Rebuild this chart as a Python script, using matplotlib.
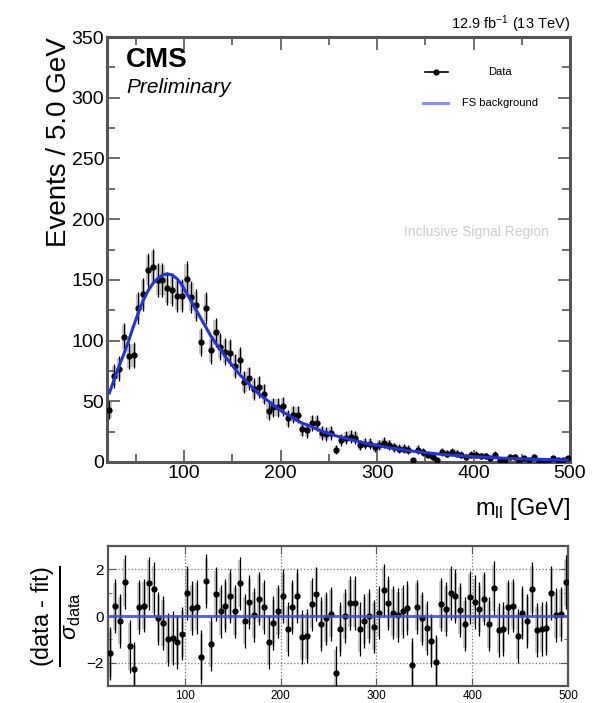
import numpy as np
import matplotlib.pyplot as plt
from matplotlib.patches import Rectangle
from matplotlib.ticker import MultipleLocator

plt.rcParams['font.family'] = ['Liberation Sans', 'DejaVu Sans']
plt.rcParams['mathtext.fontset'] = 'custom'
plt.rcParams['mathtext.rm'] = 'Liberation Sans'
plt.rcParams['mathtext.it'] = 'Liberation Sans:italic'

# bins: 20-500 GeV, 5 GeV wide
bin_lo = 20
bin_w = 5
n_bins = 96

# FS background fit (events per bin)
fit_vals = [57, 68, 79, 89, 100, 112, 123, 133, 141, 147, 151, 154, 155, 154, 151, 146,
            139, 132, 125, 118, 111, 104, 98, 93, 87, 82, 77, 72, 68, 64, 60, 56,
            53, 50, 47, 44, 41, 39, 36.5, 34, 32, 30.5, 29, 27, 25.5, 24, 23, 21.5,
            20.5, 19.5, 18.5, 17.5, 16.5, 15.5, 14.7, 14, 13.2, 12.5, 11.8, 11.2, 10.6, 10,
            9.4, 8.9, 8.4, 7.9, 7.5, 7.1, 6.7, 6.3, 6.0, 5.7, 5.4, 5.1, 4.8, 4.6,
            4.3, 4.1, 3.9, 3.7, 3.5, 3.3, 3.1, 3.0, 2.8, 2.7, 2.5, 2.4, 2.3, 2.2,
            2.1, 2.0, 1.9, 1.8, 1.7, 1.6]

# observed data per bin
data_vals = [43, 71, 77, 103, 87, 88, 127, 138, 158, 161, 150, 150, 143, 142, 137, 137,
             151, 136, 129, 99, 127, 92, 107, 95, 91, 90, 79, 84, 66, 69, 60, 62,
             56, 42, 45, 45, 46, 36, 39, 39, 27, 26, 32, 32, 24, 23, 24, 10,
             18, 20, 21, 20, 14, 15, 15, 12, 14, 16, 14, 12, 11, 11, 10, 2,
             10, 8, 6, 4, 2, 8, 7, 8, 7, 6, 4, 6, 6, 5, 5, 3,
             6, 2, 2, 4, 4, 1, 3, 2, 4, 1, 1, 1, 3, 2, 2, 3]

# pulls (data - fit) / sigma_data
pull_vals = [-1.6, 0.42, -0.2, 1.45, -1.3, -2.25, 0.4, 0.45, 1.4, 1.15, -0.1, -0.3, -1.0, -0.95, -1.1, -0.75,
             1.0, 0.35, 0.4, -1.75, 1.5, -1.2, 0.95, 0.2, 0.45, 0.85, 0.2, 1.4, -0.2, 0.6, 0.05, 0.75,
             0.4, -1.1, -0.3, 0.2, 0.85, -0.55, 0.4, 0.85, -0.9, -0.85, 0.5, 0.95, -0.35, -0.1, 0.1, -2.45,
             -0.55, 0.0, 0.55, 0.55, -0.55, -0.2, 0.0, -0.45, 0.15, 1.1, 0.55, 0.15, 0.05, 0.2, 0.35, -2.1,
             0.4, -0.1, -0.5, -1.05, -1.95, 0.5, 0.3, 1.0, 0.85, 0.25, -0.35, 0.8, 0.6, 0.3, 0.75, -0.35,
             1.2, -0.6, -0.55, 0.4, 0.45, -0.85, 0.15, -0.2, 1.15, -0.6, -0.55, -0.5, 1.0, 0.05, 0.1, 1.45]

centers = bin_lo + bin_w * (np.arange(n_bins) + 0.5)
fit = np.array(fit_vals)
data = np.array(data_vals, dtype=float)
pull = np.array(pull_vals)
err = np.sqrt(np.maximum(data, 1))

frame_col = '#555555'
fig = plt.figure(figsize=(6.05, 7.03), dpi=100)
ax = fig.add_axes([107/605, 1-462/703, 463/605, 425/703])
axr = fig.add_axes([108/605, 1-686/703, 460/605, 140/703])

# ---- main panel
for c, d, e in zip(centers, data, err):
    ax.add_patch(Rectangle((c-2.2, d-e), 4.4, 2*e, facecolor='#c8c8c8', edgecolor='none', zorder=1))
ax.errorbar(centers, data, yerr=err*1.15, fmt='o', color='black', ms=3.5, elinewidth=0.9, capsize=0, zorder=3)
ax.plot(centers, fit, color='#2233dd', lw=2.2, zorder=4)

ax.set_xlim(20, 500)
ax.set_ylim(0, 350)
ax.xaxis.set_major_locator(MultipleLocator(100))
ax.xaxis.set_minor_locator(MultipleLocator(50))
ax.yaxis.set_major_locator(MultipleLocator(50))
ax.yaxis.set_minor_locator(MultipleLocator(25))
ax.tick_params(which='both', direction='in', top=True, right=True, color=frame_col, width=1.2)
ax.tick_params(which='major', length=9, labelsize=14, pad=2)
ax.tick_params(which='minor', length=6)
for s in ax.spines.values():
    s.set_color(frame_col)
    s.set_linewidth(2.2)

ax.set_ylabel('Events / 5.0 GeV', fontsize=20, loc='top', labelpad=0)
ax.set_xlabel('m$_{\\mathrm{ll}}$ [GeV]', fontsize=17, loc='right', labelpad=10)

ax.text(0.04, 0.946, 'CMS', transform=ax.transAxes, fontsize=20, fontweight='bold', va='center')
ax.text(0.042, 0.882, 'Preliminary', transform=ax.transAxes, fontsize=15, style='italic', va='center')
ax.text(1.0, 1.03, '12.9 fb$^{-1}$ (13 TeV)', transform=ax.transAxes, fontsize=10.5, ha='right', va='center')
ax.text(0.797, 0.541, 'Inclusive Signal Region', transform=ax.transAxes, fontsize=10,
        color='#cccccc', ha='center', va='center')

# legend
ax.plot([0.686, 0.736], [0.918, 0.918], transform=ax.transAxes, color='black', lw=1.2)
ax.plot([0.711], [0.918], 'o', transform=ax.transAxes, color='black', ms=3.5)
ax.text(0.849, 0.918, 'Data', transform=ax.transAxes, fontsize=8, ha='center', va='center')
ax.plot([0.682, 0.736], [0.845, 0.845], transform=ax.transAxes, color='#8a8cff', lw=2.2)
ax.text(0.849, 0.845, 'FS background', transform=ax.transAxes, fontsize=8, ha='center', va='center')

# ---- pull panel
for c, p in zip(centers, pull):
    axr.add_patch(Rectangle((c-1.8, p-1.0), 3.6, 2.0, facecolor='#c8c8c8', edgecolor='none', zorder=1))
axr.errorbar(centers, pull, yerr=1.15, fmt='o', color='black', ms=3.5, elinewidth=0.9, capsize=0, zorder=3)
axr.axhline(0, color='#3a4cff', lw=2.2, alpha=0.85, zorder=4)
axr.set_xlim(20, 500)
axr.set_ylim(-3, 3)
axr.xaxis.set_major_locator(MultipleLocator(100))
axr.yaxis.set_major_locator(MultipleLocator(2))
axr.yaxis.set_minor_locator(MultipleLocator(1))
axr.grid(True, which='major', linestyle=':', color='#777777', lw=0.9)
axr.tick_params(which='both', direction='in', top=True, right=True, color=frame_col)
axr.tick_params(which='major', length=6, labelsize=11, pad=3)
axr.tick_params(axis='x', labelsize=8.5)
axr.tick_params(which='minor', length=3)
for s in axr.spines.values():
    s.set_color(frame_col)
    s.set_linewidth(1.6)
axr.set_ylabel('$\\frac{\\mathrm{(data\\ \\text{-}\\ fit)}}{\\sigma_{\\mathrm{data}}}$', fontsize=24, labelpad=2)

fig.savefig('out.png', dpi=100)
